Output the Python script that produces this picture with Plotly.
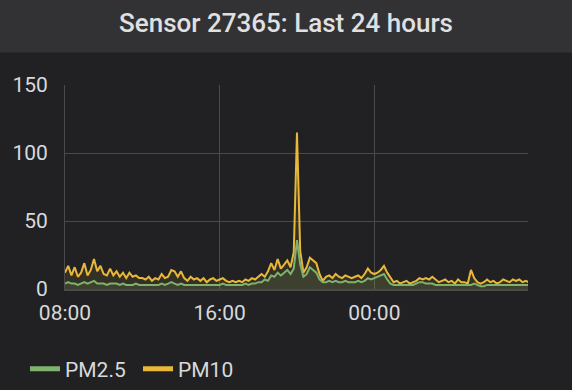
import plotly.graph_objects as go
import pandas as pd

# 10-minute samples from 08:00 to 08:00 next day
times = pd.date_range("2020-01-01 08:00", "2020-01-02 08:00", freq="10min")

pm10 = [
    12, 17, 10, 16, 9, 12,      # 08
    19, 10, 14, 22, 13, 17,     # 09
    11, 10, 15, 10, 13, 9,      # 10
    12, 8, 12, 9, 10, 8,        # 11
    8, 7, 9, 6, 8, 7,           # 12
    11, 8, 9, 14, 13, 9,        # 13
    13, 8, 6, 9, 7, 8,          # 14
    6, 8, 5, 7, 8, 6,           # 15
    7, 8, 6, 5, 6, 5,           # 16
    6, 5, 7, 6, 8, 7,           # 17
    9, 11, 9, 13, 19, 14,       # 18
    22, 15, 18, 21, 16, 27,     # 19
    115, 28, 12, 16, 23, 21,    # 20
    19, 11, 6, 9, 10, 8,        # 21
    11, 9, 8, 10, 9, 8,         # 22
    9, 10, 8, 11, 15, 12,       # 23
    11, 12, 14, 17, 12, 8,      # 00
    5, 6, 4, 5, 6, 4,           # 01
    5, 6, 8, 7, 8, 7,           # 02
    9, 7, 5, 6, 7, 5,           # 03
    6, 4, 7, 5, 5, 4,           # 04
    14, 8, 5, 4, 5, 7,          # 05
    5, 6, 4, 5, 7, 6,           # 06
    5, 7, 6, 7, 5, 6,           # 07
    5,
]

pm25 = [
    4, 5, 4, 4, 3, 4,           # 08
    5, 4, 5, 6, 4, 4,           # 09
    4, 3, 4, 4, 4, 3,           # 10
    4, 3, 3, 3, 4, 3,           # 11
    3, 3, 3, 3, 3, 3,           # 12
    4, 3, 4, 5, 4, 3,           # 13
    4, 3, 3, 3, 3, 3,           # 14
    3, 3, 3, 3, 3, 3,           # 15
    3, 4, 3, 3, 3, 3,           # 16
    3, 3, 4, 3, 4, 4,           # 17
    5, 5, 7, 6, 10, 9,          # 18
    12, 10, 12, 14, 11, 15,     # 19
    36, 18, 9, 11, 16, 14,      # 20
    12, 7, 5, 5, 6, 5,          # 21
    6, 5, 5, 6, 5, 5,           # 22
    5, 6, 5, 6, 8, 7,           # 23
    8, 9, 10, 11, 7, 4,         # 00
    3, 3, 3, 3, 3, 3,           # 01
    3, 4, 5, 5, 4, 4,           # 02
    4, 3, 3, 3, 3, 3,           # 03
    3, 3, 3, 3, 3, 3,           # 04
    3, 4, 3, 2, 2, 3,           # 05
    3, 3, 3, 3, 3, 3,           # 06
    3, 3, 3, 3, 3, 3,           # 07
    3,
]

series_names = ["PM2.5", "PM10"]
y_ticks = [0, 50, 100, 150]
title_text = "Sensor 27365: Last 24 hours"

GREEN = "#7EB26D"
YELLOW = "#EAB839"
BG = "#212124"
HEADER = "#323235"
GRID = "#4a4a4d"
TXT = "#d8d9da"

fig = go.Figure()
fig.add_trace(go.Scatter(x=times, y=pm10, mode="lines", name=series_names[1],
                         line=dict(color=YELLOW, width=2), fill="tozeroy",
                         fillcolor="rgba(234,184,57,0.10)", showlegend=False))
fig.add_trace(go.Scatter(x=times, y=pm25, mode="lines", name=series_names[0],
                         line=dict(color=GREEN, width=2), fill="tozeroy",
                         fillcolor="rgba(126,178,109,0.12)", showlegend=False))
# legend entries
fig.add_trace(go.Scatter(x=[None], y=[None], mode="lines", name=series_names[0],
                         line=dict(color=GREEN, width=5)))
fig.add_trace(go.Scatter(x=[None], y=[None], mode="lines", name=series_names[1],
                         line=dict(color=YELLOW, width=5)))

L, R, T, B = 61, 44, 84.5, 101.3
W, H = 572, 390
pw = W - L - R
ph = H - T - B

# header bar in paper coordinates (slightly oversized to cover edges)
fig.add_shape(type="rect", xref="paper", yref="paper",
              x0=-(L + 10) / pw, x1=(W - L + 10) / pw,
              y0=(H - B - 52) / ph, y1=(H - B + 10) / ph,
              fillcolor=HEADER, line=dict(width=0), layer="below")

fig.update_layout(
    width=W, height=H, autosize=False,
    paper_bgcolor=BG, plot_bgcolor=BG,
    margin=dict(l=L, r=R, t=T, b=B, pad=0),
    font=dict(family="Roboto", color=TXT, size=21),
    title=dict(text=title_text, x=0.5, xref="container", xanchor="center",
               y=1 - 23 / H, yref="container", yanchor="middle",
               font=dict(family="Roboto", size=26, weight=500, color="#e0e0e2")),
    showlegend=True,
    legend=dict(orientation="h", xref="container", yref="container",
                x=25 / W, xanchor="left", y=1 - 369 / H, yanchor="middle",
                font=dict(size=21, color=TXT), entrywidth=68,
                bgcolor="rgba(0,0,0,0)", borderwidth=0),
    xaxis=dict(type="date",
               range=["2020-01-01 08:00", "2020-01-02 07:57"],
               tick0="2020-01-01 08:00", dtick=8 * 3600 * 1000,
               tickformat="%H:%M", showgrid=True, gridcolor=GRID, gridwidth=1,
               showline=True, linecolor=GRID, linewidth=2, zeroline=False,
               ticks="", ticklabelstandoff=4, tickfont=dict(size=21, color=TXT)),
    yaxis=dict(range=[0, 150], tickvals=y_ticks, showgrid=True, gridcolor=GRID,
               gridwidth=1, zeroline=False, showline=True, linecolor=GRID,
               linewidth=1, ticks="", ticklabelstandoff=12,
               tickfont=dict(size=21, color=TXT)),
)

fig.write_html("out.html", config={"displayModeBar": False},
               post_script="document.body.style.margin='0';document.body.style.background='#212124';")
